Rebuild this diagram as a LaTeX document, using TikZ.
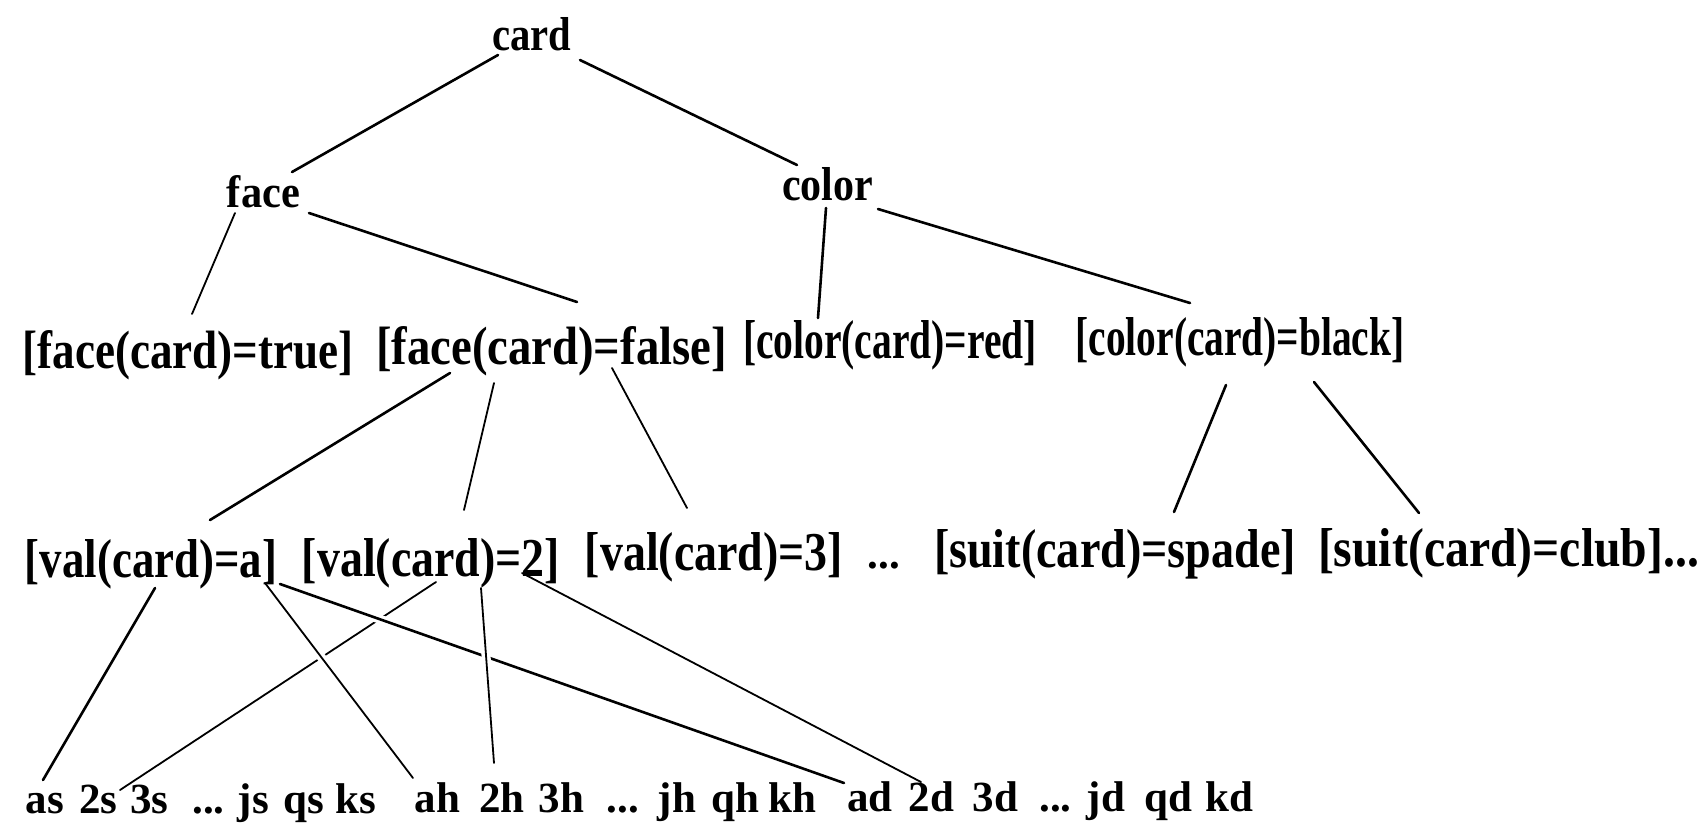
\documentclass[tikz,border=0pt]{standalone}
\usepackage{graphicx}
\usepackage{fontspec}
\setmainfont{Liberation Serif}
\newcommand{\fitb}[3]{\resizebox{#1pt}{#2pt}{#3}}
\begin{document}
\begin{tikzpicture}[x=1pt,y=-1pt,
  lbl/.style={anchor=base,inner sep=0pt,font=\fontsize{43}{43}\selectfont\bfseries},
  edge/.style={line width=2.6pt,line cap=round},
  thinedge/.style={line width=1.8pt,line cap=round},
  over/.style={preaction={draw=white,line width=9pt,shorten <=22pt,shorten >=22pt}}]
\fill[white] (0,0) rectangle (1703,831);
\useasboundingbox (0,0) rectangle (1703,831);
% level 1-2
\node[lbl] (card)  at (532,50)    {\fitb{79}{33}{card}};
\node[lbl] (face)  at (263.5,207) {\fitb{73}{32}{face}};
\node[lbl] (color) at (827.5,200) {\fitb{91}{33}{color}};
% level 3
\node[lbl] (ftrue)  at (188,368)   {\fitb{331}{38}{[face(card)=true]}};
\node[lbl] (ffalse) at (551.5,364) {\fitb{351}{38}{[face(card)=false]}};
\node[lbl] (cred)   at (890,358)   {\fitb{294}{38}{[color(card)=red]}};
\node[lbl] (cblack) at (1240,355)  {\fitb{329}{38}{[color(card)=black]}};
% level 4
\node[lbl] (va)     at (151,577)    {\fitb{252}{38}{[val(card)=a]}};
\node[lbl] (v2)     at (431,576)    {\fitb{258}{38}{[val(card)=2]}};
\node[lbl] (v3)     at (714,570)    {\fitb{258}{38}{[val(card)=3]}};
\node[lbl] (vdots)  at (884,568)    {...};
\node[lbl] (sspade) at (1115,567)   {\fitb{362}{38}{[suit(card)=spade]}};
\node[lbl] (sclub)  at (1508.5,566) {\fitb{381}{38}{[suit(card)=club]...}};
% leaves
\node[lbl] (l-as) at (45,813)    {as};
\node[lbl] (l-2s) at (98.5,813)  {2s};
\node[lbl] (l-3s) at (149.5,813) {3s};
\node[lbl] (l-ds) at (208.5,813) {...};
\node[lbl] (l-js) at (253.5,813) {js};
\node[lbl] (l-qs) at (303.5,813) {qs};
\node[lbl] (l-ks) at (356,813)   {ks};
\node[lbl] (l-ah) at (437.5,812) {ah};
\node[lbl] (l-2h) at (502,812)   {2h};
\node[lbl] (l-3h) at (561.5,812) {3h};
\node[lbl] (l-dh) at (623,812)   {...};
\node[lbl] (l-jh) at (677,812)   {jh};
\node[lbl] (l-qh) at (735,812)   {qh};
\node[lbl] (l-kh) at (792,812)   {kh};
\node[lbl] (l-ad) at (870,811)   {ad};
\node[lbl] (l-2d) at (931.5,811) {2d};
\node[lbl] (l-3d) at (995.5,811) {3d};
\node[lbl] (l-dd) at (1055.5,811){...};
\node[lbl] (l-jd) at (1106,811)  {jd};
\node[lbl] (l-qd) at (1168.5,811){qd};
\node[lbl] (l-kd) at (1229.5,811){kd};
% edges
\draw[edge] ([shift={(-34,5)}]card.base) -- ([shift={(28.5,-35)}]face.base);
\draw[edge] ([shift={(48,10)}]card.base) -- ([shift={(-30.5,-35)}]color.base);
\draw[thinedge] ([shift={(-28.5,6)}]face.base) -- ([shift={(4,-54)}]ftrue.base);
\draw[edge] ([shift={(45.5,6)}]face.base) -- ([shift={(25.5,-62)}]ffalse.base);
\draw[edge] ([shift={(-1.5,8)}]color.base) -- ([shift={(-72,-40)}]cred.base);
\draw[edge] ([shift={(50.5,9)}]color.base) -- ([shift={(-50,-52)}]cblack.base);
\draw[edge] ([shift={(-101.5,9)}]ffalse.base) -- ([shift={(59,-57)}]va.base);
\draw[thinedge] ([shift={(-57.5,19)}]ffalse.base) -- ([shift={(33,-66)}]v2.base);
\draw[thinedge] ([shift={(60.5,4)}]ffalse.base) -- ([shift={(-27,-62)}]v3.base);
\draw[edge] ([shift={(-14,30)}]cblack.base) -- ([shift={(59,-55)}]sspade.base);
\draw[edge] ([shift={(74,27)}]cblack.base) -- ([shift={(-89.5,-53)}]sclub.base);
\draw[edge] ([shift={(4,11)}]va.base) -- ([shift={(-2,-33)}]l-as.base);
\draw[thinedge] ([shift={(5,6)}]v2.base) -- ([shift={(21.5,-23)}]l-2s.base);
\draw[thinedge,over] ([shift={(114,6)}]va.base) -- ([shift={(-24.5,-34)}]l-ah.base);
\draw[edge,over] ([shift={(129,7)}]va.base) -- ([shift={(-26,-28)}]l-ad.base);
\draw[thinedge,over] ([shift={(50,12)}]v2.base) -- ([shift={(-8,-49)}]l-2h.base);
\draw[thinedge] ([shift={(91,-3)}]v2.base) -- ([shift={(-10.5,-29)}]l-2d.base);
\end{tikzpicture}
\end{document}
